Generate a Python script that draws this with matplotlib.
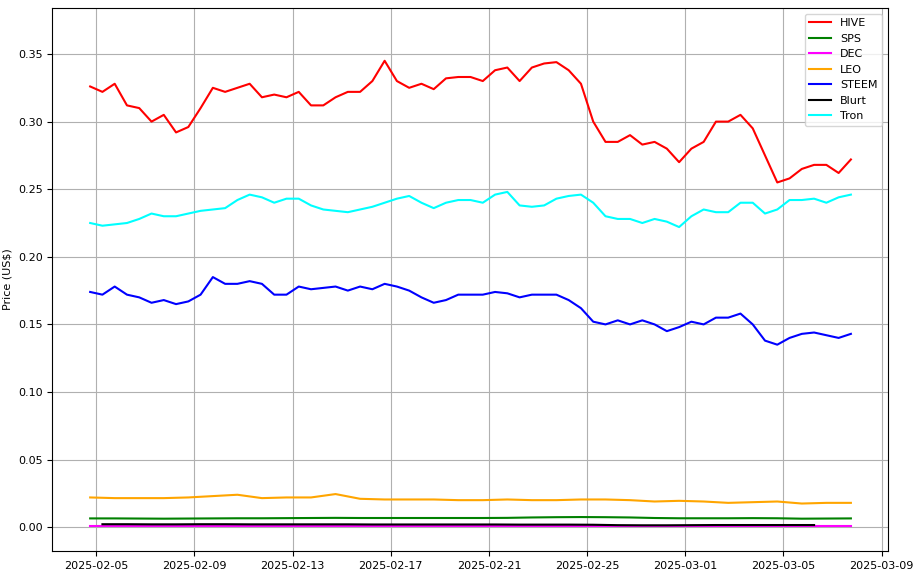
import matplotlib
matplotlib.use("Agg")
import matplotlib.pyplot as plt
import matplotlib.dates as mdates
import pandas as pd

start = "2025-02-04 18:00"
hive = [0.326,
 0.322,0.328, 0.312,0.310, 0.300,0.305, 0.292,0.296, 0.310,0.325, 0.322,0.325,
 0.328,0.318, 0.320,0.318, 0.322,0.312, 0.312,0.318, 0.322,0.322, 0.330,0.345,
 0.330,0.325, 0.328,0.324, 0.332,0.333, 0.333,0.330, 0.338,0.340, 0.330,0.340,
 0.343,0.344, 0.338,0.328, 0.300,0.285, 0.285,0.290, 0.283,0.285, 0.280,0.270,
 0.280,0.285, 0.300,0.300, 0.305,0.295, 0.275,0.255, 0.258,0.265, 0.268,0.268,
 0.262,0.272]
tron = [0.225,
 0.223,0.224, 0.225,0.228, 0.232,0.230, 0.230,0.232, 0.234,0.235, 0.236,0.242,
 0.246,0.244, 0.240,0.243, 0.243,0.238, 0.235,0.234, 0.233,0.235, 0.237,0.240,
 0.243,0.245, 0.240,0.236, 0.240,0.242, 0.242,0.240, 0.246,0.248, 0.238,0.237,
 0.238,0.243, 0.245,0.246, 0.240,0.230, 0.228,0.228, 0.225,0.228, 0.226,0.222,
 0.230,0.235, 0.233,0.233, 0.240,0.240, 0.232,0.235, 0.242,0.242, 0.243,0.240,
 0.244,0.246]
steem = [0.174,
 0.172,0.178, 0.172,0.170, 0.166,0.168, 0.165,0.167, 0.172,0.185, 0.180,0.180,
 0.182,0.180, 0.172,0.172, 0.178,0.176, 0.177,0.178, 0.175,0.178, 0.176,0.180,
 0.178,0.175, 0.170,0.166, 0.168,0.172, 0.172,0.172, 0.174,0.173, 0.170,0.172,
 0.172,0.172, 0.168,0.162, 0.152,0.150, 0.153,0.150, 0.153,0.150, 0.145,0.148,
 0.152,0.150, 0.155,0.155, 0.158,0.150, 0.138,0.135, 0.140,0.143, 0.144,0.142,
 0.140,0.143]
leo = [0.022,0.0215,0.0215,0.0215,0.022,0.023,0.024,0.0215,0.022,0.022,0.0245,
 0.021,0.0205,0.0205,0.0205,0.020,0.020,0.0205,0.020,0.020,0.0205,0.0205,0.020,
 0.019,0.0195,0.019,0.018,0.0185,0.019,0.0175,0.018,0.018]
sps = [0.0065,0.0065,0.0064,0.0063,0.0064,0.0065,0.0066,0.0066,0.0067,0.0068,0.0069,
 0.0068,0.0068,0.0068,0.0068,0.0068,0.0068,0.0069,0.0072,0.0074,0.0075,0.0074,0.0072,
 0.0068,0.0066,0.0066,0.0066,0.0067,0.0066,0.0063,0.0064,0.0065]
dec = [0.0009]*32
blurt = [0.0022,0.0022,0.0021,0.0021,0.0022,0.0022,0.0021,0.0021,0.0021,0.0021,
 0.0021,0.0020,0.0020,0.0020,0.0020,0.0020,0.0020,0.0019,0.0019,0.0019,0.0018,
 0.0015,0.0014,0.0014,0.0015,0.0016,0.0016,0.0016,0.0016,0.0016]

def t12(v): return pd.date_range(start, periods=len(v), freq="12h")
def t24(v, s=start): return pd.date_range(s, periods=len(v), freq="24h")

fig, ax = plt.subplots(figsize=(9.18, 5.75), dpi=100)
fig.subplots_adjust(left=0.057, right=0.967, top=0.986, bottom=0.042)
ax.plot(t12(hive), hive, color="red", label="HIVE")
ax.plot(t24(sps), sps, color="green", label="SPS")
ax.plot(t24(dec), dec, color="magenta", label="DEC")
ax.plot(t24(leo), leo, color="orange", label="LEO")
ax.plot(t12(steem), steem, color="blue", label="STEEM")
ax.plot(t24(blurt, "2025-02-05 06:00"), blurt, color="black", label="Blurt")
ax.plot(t12(tron), tron, color="cyan", label="Tron")
ax.set_ylabel("Price (US$)", fontsize=8)
ax.set_xticks(pd.to_datetime(["2025-02-05","2025-02-09","2025-02-13","2025-02-17",
    "2025-02-21","2025-02-25","2025-03-01","2025-03-05","2025-03-09"]))
ax.xaxis.set_major_formatter(mdates.DateFormatter("%Y-%m-%d"))
ax.set_xlim(pd.Timestamp("2025-02-03 05:00"), pd.Timestamp("2025-03-09 06:00"))
ax.set_ylim(-0.0175, 0.384)
ax.tick_params(labelsize=8)
ax.grid(True)
ax.legend(loc="upper right", fontsize=8)
fig.savefig("out.png")
